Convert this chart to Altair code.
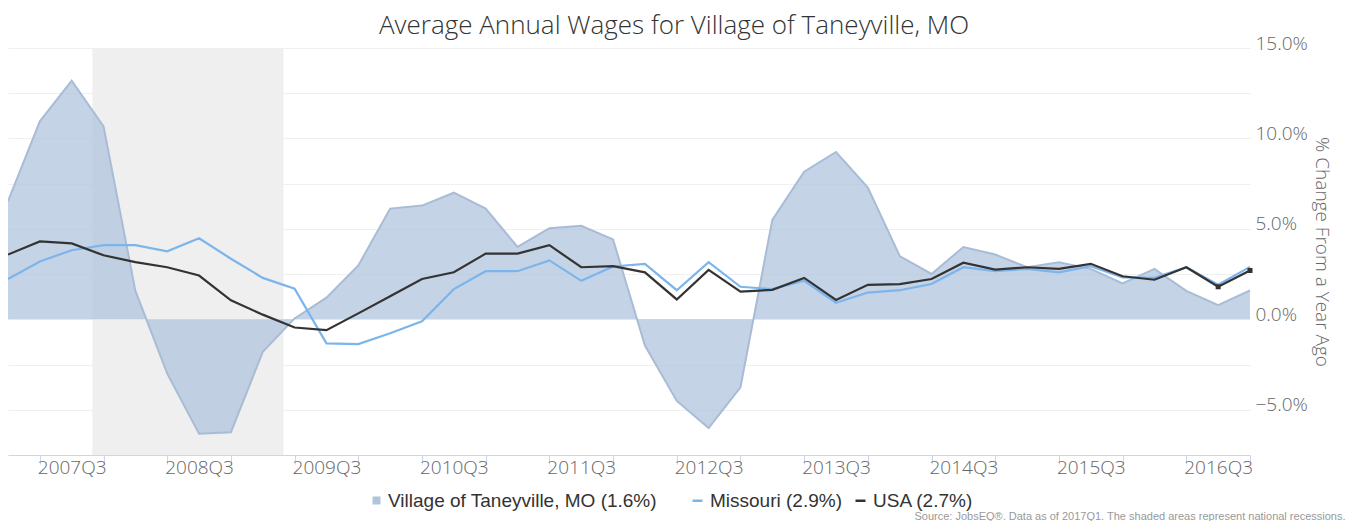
import json
import altair as alt
import pandas as pd

quarters = [f"{y}Q{q}" for y in range(2007, 2017) for q in range(1, 5)]

taneyville = [6.53, 10.95, 13.2, 10.67, 1.57, -3.0, -6.33, -6.24, -1.8, 0.05,
              1.2, 2.98, 6.12, 6.29, 7.0, 6.12, 4.0, 5.04, 5.17, 4.42,
              -1.45, -4.51, -6.01, -3.76, 5.5, 8.16, 9.25, 7.28, 3.5, 2.51,
              4.0, 3.58, 2.88, 3.16, 2.79, 1.98, 2.79, 1.57, 0.79, 1.6]
missouri = [2.23, 3.2, 3.82, 4.1, 4.1, 3.76, 4.48, 3.35, 2.29, 1.7,
            -1.33, -1.37, -0.77, -0.11, 1.67, 2.66, 2.66, 3.26, 2.13, 2.92,
            3.07, 1.61, 3.16, 1.8, 1.67, 2.13, 0.92, 1.48, 1.61, 1.95,
            2.88, 2.66, 2.79, 2.6, 2.94, 2.32, 2.29, 2.88, 1.91, 2.9]
usa = [3.58, 4.31, 4.2, 3.54, 3.16, 2.88, 2.42, 1.05, 0.26, -0.45,
       -0.6, 0.33, 1.28, 2.23, 2.6, 3.63, 3.63, 4.1, 2.88, 2.94,
       2.6, 1.1, 2.73, 1.53, 1.63, 2.29, 1.07, 1.91, 1.95, 2.23,
       3.13, 2.75, 2.88, 2.79, 3.07, 2.38, 2.19, 2.88, 1.8, 2.7]

recession_start = [2.65]
recession_end = [8.65]

tick_positions = list(range(1, 40, 2))
label_positions = list(range(2, 40, 4))
y_values = [-7.5, -5, -2.5, 0, 2.5, 5, 7.5, 10, 12.5, 15]

name_area = "Village of Taneyville, MO (1.6%)"
name_mo = "Missouri (2.9%)"
name_us = "USA (2.7%)"
source = "Source: JobsEQ\u00ae. Data as of 2017Q1. The shaded areas represent national recessions."
title = "Average Annual Wages for Village of Taneyville, MO"

idx = list(range(len(quarters)))
df_area = pd.DataFrame({"idx": idx, "quarter": quarters, "value": taneyville, "series": name_area})
df_lines = pd.concat([
    pd.DataFrame({"idx": idx, "quarter": quarters, "value": missouri, "series": name_mo}),
    pd.DataFrame({"idx": idx, "quarter": quarters, "value": usa, "series": name_us}),
])
df_marks = pd.DataFrame({"idx": idx[-2:], "value": usa[-2:]})
df_rec = pd.DataFrame({"start": recession_start, "end": recession_end})

LIGHT = "Open Sans"

x_axis = alt.Axis(
    values=sorted(set(tick_positions + label_positions)),
    labelExpr=f"datum.value % 4 == 2 ? {json.dumps(quarters)}[datum.value] : ''",
    tickOpacity={"condition": {"test": "datum.value % 2 == 0", "value": 0}, "value": 1},
    grid=False, domainColor="#CCD6EB", tickColor="#CCD6EB", tickSize=9,
    labelFont=LIGHT, labelFontWeight=300, labelFontSize=19, labelColor="#666666",
    labelPadding=-6, labelFlush=False, labelOverlap=False,
    title=source, titleFont="Liberation Sans", titleFontSize=11,
    titleFontWeight="normal", titleColor="#999999", titleAlign="right",
    titleAnchor="end", titleX=1337, titleY=64, titleBaseline="alphabetic",
)
x_scale = alt.Scale(domain=[0, 39], nice=False, zero=False)

y_axis = alt.Axis(
    orient="right", values=y_values,
    labelExpr="datum.value % 5 == 0 ? format(datum.value, '.1f') + '%' : ''",
    domain=False, ticks=False, gridColor="#F0F0F0", gridWidth=1,
    labelFont=LIGHT, labelFontWeight=300, labelFontSize=19, labelColor="#666666",
    labelPadding=5, labelOffset=-5, labelAlign="left",
    title="% Change From a Year Ago", titleFont=LIGHT, titleFontWeight=300,
    titleFontSize=19, titleColor="#666666", titleAngle=90, titlePadding=4,
)
y_scale = alt.Scale(domain=[-7.5, 15], nice=False, zero=False)

rec = alt.Chart(df_rec).mark_rect(color="#EFEFEF").encode(
    x=alt.X("start:Q", scale=x_scale, axis=x_axis),
    x2="end:Q",
)

area = alt.Chart(df_area).mark_area(opacity=0.75).encode(
    x=alt.X("idx:Q", scale=x_scale, axis=x_axis),
    y=alt.Y("value:Q", scale=y_scale, axis=y_axis),
    fill=alt.Fill("series:N", scale=alt.Scale(domain=[name_area], range=["#B0C4DE"]),
                  legend=alt.Legend(title=None, orient="none", legendX=359, legendY=443,
                                    symbolType="square", symbolSize=64, padding=0,
                                    labelFont="Liberation Sans", labelFontSize=19,
                                    labelColor="#333333", labelOffset=2, labelLimit=0,
                                    symbolOpacity=1)),
)

outline = alt.Chart(df_area).mark_line(color="#A9BCD6", strokeWidth=2).encode(
    x=alt.X("idx:Q", scale=x_scale, axis=x_axis),
    y=alt.Y("value:Q", scale=y_scale, axis=y_axis),
)

lines = alt.Chart(df_lines).mark_line(strokeWidth=2.2).encode(
    x=alt.X("idx:Q", scale=x_scale, axis=x_axis),
    y=alt.Y("value:Q", scale=y_scale, axis=y_axis),
    stroke=alt.Stroke("series:N", scale=alt.Scale(domain=[name_mo, name_us], range=["#7CB5EC", "#333333"]),
                      legend=alt.Legend(title=None, orient="none", direction="horizontal",
                                        legendX=680, legendY=443, symbolType="stroke",
                                        symbolSize=100, symbolStrokeWidth=2.5, padding=0,
                                        columnPadding=8, labelOffset=3, labelLimit=0,
                                        labelFont="Liberation Sans", labelFontSize=19,
                                        labelColor="#333333")),
    detail="series:N",
)

marks = alt.Chart(df_marks).mark_square(size=25, color="#333333", opacity=1).encode(
    x=alt.X("idx:Q", scale=x_scale, axis=x_axis),
    y=alt.Y("value:Q", scale=y_scale, axis=y_axis),
)

chart = alt.layer(rec, area, outline, lines, marks).properties(
    width=1242, height=407,
    autosize=alt.AutoSizeParams(type="none"),
    padding={"left": 0, "top": 40, "right": 96, "bottom": 66},
    title=alt.TitleParams(title, font=LIGHT, fontSize=26, fontWeight=300, color="#333333",
                          anchor="middle", frame="group", dx=45, offset=-5),
).configure_view(stroke=None)

chart.save("out.html", embed_options={"renderer": "svg", "actions": False})
